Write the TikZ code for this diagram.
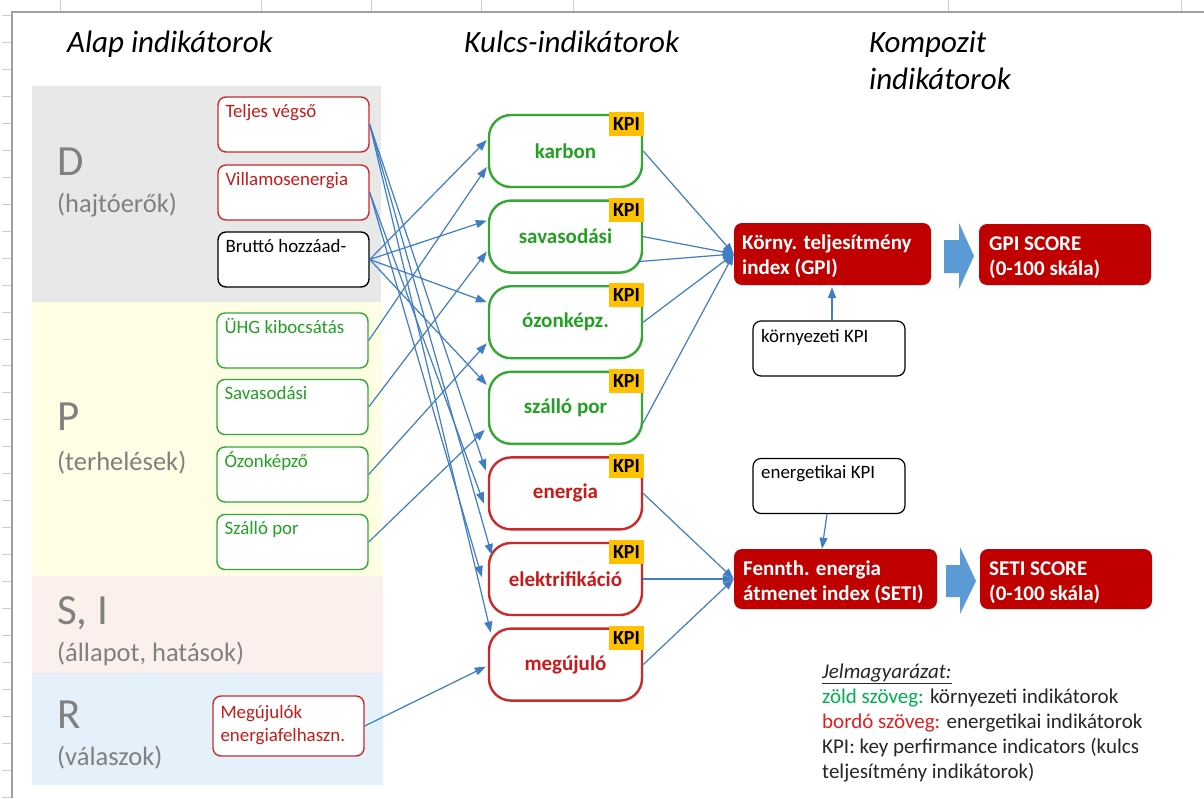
\documentclass[tikz,border=0pt]{standalone}
\usepackage{fontspec}
\setmainfont{Carlito}
\usetikzlibrary{arrows.meta,calc}

\definecolor{connblue}{HTML}{3F7DC4}
\definecolor{boxgreen}{HTML}{33A833}
\definecolor{txtgreen}{HTML}{22A022}
\definecolor{boxred}{HTML}{CC2A2A}
\definecolor{txtred}{HTML}{C81A1A}
\definecolor{bordo}{HTML}{C00000}
\definecolor{kpiyellow}{HTML}{FFC000}
\definecolor{arrowfill}{HTML}{5B9BD5}
\definecolor{bgD}{HTML}{E8E8E8}
\definecolor{bgP}{HTML}{FEFEE4}
\definecolor{bgS}{HTML}{FBF0EC}
\definecolor{bgR}{HTML}{E4F1FB}
\definecolor{letter}{HTML}{808080}
\definecolor{framegray}{HTML}{A0A0A0}
\definecolor{tickgray}{HTML}{CCCCCC}
\definecolor{legendgreen}{HTML}{00B050}
\definecolor{legendred}{HTML}{E02020}
\definecolor{ink}{HTML}{262626}

\begin{document}
\begin{tikzpicture}[x=1pt,y=-1pt,
  lbox/.style={draw, rounded corners=8pt, line width=1.4pt, fill=white,
    minimum width=151pt, minimum height=55pt, inner sep=0pt},
  ltext/.style={anchor=base west, inner sep=0pt, font=\fontsize{18.9}{23}\selectfont},
  kpibox/.style={draw, rounded corners=22pt, line width=2.4pt, fill=white,
    minimum width=153pt, minimum height=72pt, inner sep=0pt,
    font=\fontsize{21}{25}\selectfont\bfseries},
  kgreen/.style={kpibox, draw=boxgreen, text=txtgreen},
  kred/.style={kpibox, draw=boxred, text=txtred},
  kpitag/.style={fill=kpiyellow, anchor=north east, minimum width=35pt,
    minimum height=24pt, inner sep=0pt, text=black,
    font=\fontsize{20}{24}\selectfont\bfseries},
  redbox/.style={fill=bordo, rounded corners=8pt, inner sep=0pt},
  redtext/.style={anchor=base west, inner sep=0pt, text=white,
    font=\fontsize{21}{25}\selectfont\bfseries},
  kpinote/.style={draw=black, rounded corners=8pt, line width=1.2pt, fill=white,
    minimum width=152pt, minimum height=55pt, inner sep=0pt},
  heading/.style={anchor=base west, inner sep=0pt, text=black,
    font=\fontsize{31}{37}\selectfont\itshape},
  bigletter/.style={anchor=base west, inner sep=0pt, text=letter,
    font=\fontsize{43}{50}\selectfont},
  subletter/.style={anchor=base west, inner sep=0pt, text=letter,
    font=\fontsize{26.5}{32}\selectfont},
  legend/.style={anchor=base west, inner sep=0pt, text=ink,
    font=\fontsize{21}{25}\selectfont},
  conn/.style={draw=connblue, line width=1.2pt, -{Triangle[length=11pt,width=8pt]}},
]
\useasboundingbox (0,0) rectangle (1204,798);
\fill[white] (0,0) rectangle (1204,798);

% sheet frame with ruler ticks
\foreach \k in {0,...,29}
  \draw[tickgray, line width=0.8pt] (2,{15.5+26.95*\k}) -- (12,{15.5+26.95*\k});
\foreach \xx in {60,261,371,481,573,948,1181}
  \draw[tickgray, line width=0.8pt] (\xx,0) -- (\xx,12);
\draw[framegray, line width=1.5pt] (12,798) -- (12,12) -- (1204,12);

% DPSIR bands
\fill[bgD] (32,86) rectangle (381,302);
\fill[bgP] (32,302) rectangle (382,576);
\fill[bgS] (32,576) rectangle (383,673);
\fill[bgR] (32,673) rectangle (383,785);

\node[bigletter] (lD) at (57,175) {D};
\node[subletter] (lDs) at (57,212) {(hajtóerők)};
\node[bigletter] (lP) at (57,430) {P};
\node[subletter] (lPs) at (57,470) {(terhelések)};
\node[bigletter] (lS) at (57,624) {S, I};
\node[subletter] (lSs) at (57,661) {(állapot, hatások)};
\node[bigletter] (lR) at (57,728) {R};
\node[subletter] (lRs) at (57,765) {(válaszok)};

% column headings
\node[heading] (h1) at (67,52) {Alap indikátorok};
\node[heading] (h2) at (464,52) {Kulcs-indikátorok};
\node[heading] (h3) at (869,52) {Kompozit};
\node[heading] (h3b) at (869,89) {indikátorok};

% base indicators
\node[lbox, draw=boxred] (teljes) at (293.5,124.5) {};
\node[ltext, text=txtred] (teljes-t) at ($(teljes.north west)+(8,21)$) {Teljes végső};
\node[lbox, draw=boxred] (villamos) at (293.5,192.5) {};
\node[ltext, text=txtred] (villamos-t) at ($(villamos.north west)+(8,21)$) {Villamosenergia};
\node[lbox, draw=black] (brutto) at (293.5,259.5) {};
\node[ltext, text=black] (brutto-t) at ($(brutto.north west)+(8,21)$) {Bruttó hozzáad-};
\node[lbox, draw=boxgreen] (uhg) at (292.5,340.5) {};
\node[ltext, text=txtgreen] (uhg-t) at ($(uhg.north west)+(8,21)$) {ÜHG kibocsátás};
\node[lbox, draw=boxgreen] (savl) at (292.5,407) {};
\node[ltext, text=txtgreen] (savl-t) at ($(savl.north west)+(8,21)$) {Savasodási};
\node[lbox, draw=boxgreen] (ozonl) at (292.5,474.5) {};
\node[ltext, text=txtgreen] (ozonl-t) at ($(ozonl.north west)+(8,21)$) {Ózonképző};
\node[lbox, draw=boxgreen] (szallol) at (292.5,542) {};
\node[ltext, text=txtgreen] (szallol-t) at ($(szallol.north west)+(8,21)$) {Szálló por};
\node[lbox, draw=boxred, minimum height=60pt] (megujl) at (288.5,726) {};
\node[ltext, text=txtred] (megujl-t1) at ($(megujl.north west)+(8,23)$) {Megújulók};
\node[ltext, text=txtred] (megujl-t2) at ($(megujl.north west)+(8,46)$) {energiafelhaszn.};

% key indicators
\node[kgreen] (karbon) at (565.5,151) {karbon};
\node[kgreen] (savk) at (565.5,236.6) {savasodási};
\node[kgreen] (ozonk) at (565.5,322.2) {ózonképz.};
\node[kgreen] (szallok) at (565.5,407.8) {szálló por};
\node[kred] (energiak) at (565.5,493.4) {energia};
\node[kred] (elektk) at (565.5,579) {elektrifikáció};
\node[kred] (megujk) at (565.5,664.6) {megújuló};
\foreach \n in {karbon,savk,ozonk,szallok,energiak,elektk,megujk}
  \node[kpitag] (\n-kpi) at ($(\n.north east)+(1,-2)$) {KPI};

% composite indicators
\node[redbox, minimum width=197pt, minimum height=62pt] (gpi) at (832.5,254) {};
\node[redtext] (gpi-t1) at (742,249) {Körny. teljesítmény};
\node[redtext] (gpi-t2) at (742,274) {index (GPI)};
\node[redbox, minimum width=172pt, minimum height=61pt] (gpis) at (1065,254.5) {};
\node[redtext] (gpis-t1) at (989,250) {GPI SCORE};
\node[redtext] (gpis-t2) at (989,275) {(0-100 skála)};
\node[redbox, minimum width=203pt, minimum height=60pt] (seti) at (835.5,579) {};
\node[redtext] (seti-t1) at (743,575) {Fennth. energia};
\node[redtext] (seti-t2) at (743,600) {átmenet index (SETI)};
\node[redbox, minimum width=172pt, minimum height=60pt] (setis) at (1066,579) {};
\node[redtext] (setis-t1) at (989,575) {SETI SCORE};
\node[redtext] (setis-t2) at (989,600) {(0-100 skála)};

\fill[arrowfill] (944,240) -- (959,240) -- (959,223) -- (974,256) -- (959,289) -- (959,273) -- (944,273) -- cycle;
\fill[arrowfill] (946,565) -- (960,565) -- (960,547) -- (976,581) -- (960,614) -- (960,597) -- (946,597) -- cycle;

\node[kpinote] (kkpi) at (829,348.5) {};
\node[ltext, text=black] (kkpi-t) at (761,342) {környezeti KPI};
\node[kpinote] (ekpi) at (829,486) {};
\node[ltext, text=black] (ekpi-t) at (761,478) {energetikai KPI};

% base -> key connectors
\draw[conn] (brutto.east) -- ($(karbon.west)+(-1,-11)$);
\draw[conn] (uhg.east) -- ($(karbon.west)+(-1,16)$);
\draw[conn] (brutto.east) -- ($(savk.west)+(-1,-16)$);
\draw[conn] (savl.east) -- ($(savk.west)+(-1,15)$);
\draw[conn] (brutto.east) -- ($(ozonk.west)+(-1,-20)$);
\draw[conn] (ozonl.east) -- ($(ozonk.west)+(-1,21)$);
\draw[conn] (brutto.east) -- ($(szallok.west)+(-1,-23)$);
\draw[conn] (szallol.east) -- ($(szallok.west)+(-3,22)$);
\draw[conn] (teljes.east) -- ($(energiak.west)+(-2,-23)$);
\draw[conn] (villamos.east) -- ($(energiak.west)+(-4,10)$);
\draw[conn] (teljes.east) -- ($(elektk.west)+(4,-24)$);
\draw[conn] (villamos.east) -- ($(elektk.west)+(-6,-2)$);
\draw[conn] (teljes.east) -- ($(megujk.west)+(3,-32)$);
\draw[conn] (megujl.east) -- ($(megujk.west)+(-2,2)$);

% key -> composite connectors
\draw[conn] (karbon.east) -- (gpi.west);
\draw[conn] (savk.east) -- (gpi.west);
\draw[conn] ($(savk.east)+(-5,25)$) -- (gpi.west);
\draw[conn] (ozonk.east) -- (gpi.west);
\draw[conn] ($(szallok.east)+(0,15)$) -- (gpi.west);
\draw[conn] (energiak.east) -- (seti.west);
\draw[conn] (elektk.east) -- (seti.west);
\draw[conn] (megujk.east) -- (seti.west);
\draw[conn] ([xshift=3pt]kkpi.north) -- ([xshift=3pt,yshift=-2pt]kkpi.north |- gpi.south);
\draw[conn] ([xshift=-2pt]ekpi.south) -- ([xshift=-13.5pt]seti.north);

% legend
\node[legend] (lg1) at (822,678) {\itshape\underline{Jelmagyarázat:}};
\node[legend] (lg2) at (822,703) {\textcolor{legendgreen}{zöld szöveg:} környezeti indikátorok};
\node[legend] (lg3) at (822,728) {\textcolor{legendred}{bordó szöveg:} energetikai indikátorok};
\node[legend] (lg4) at (822,753) {KPI: key perfirmance indicators (kulcs};
\node[legend] (lg5) at (822,778) {teljesítmény indikátorok)};
\end{tikzpicture}
\end{document}
